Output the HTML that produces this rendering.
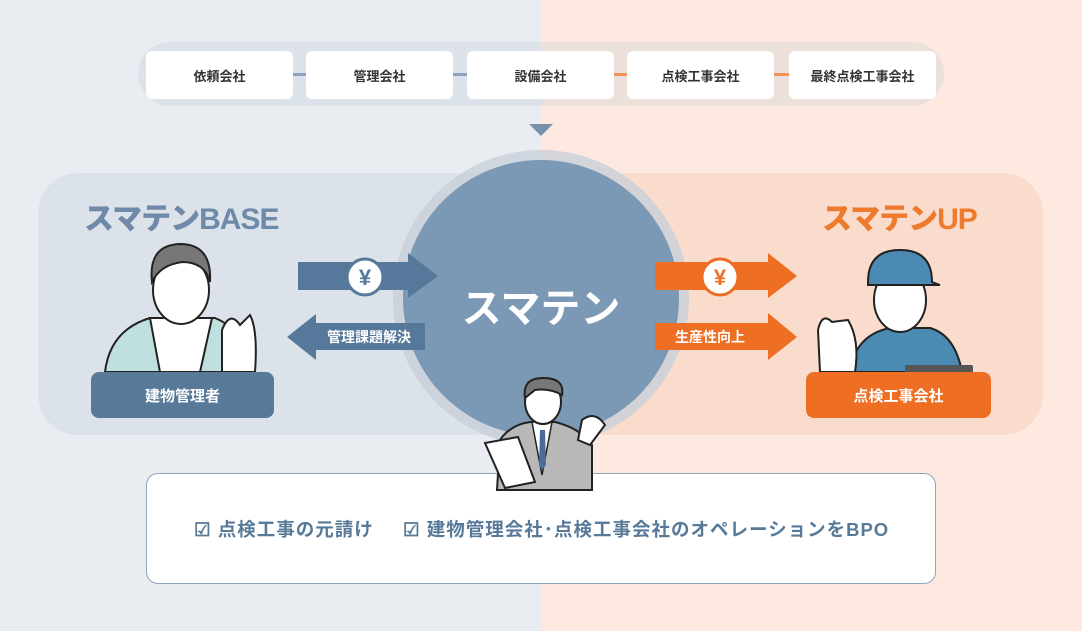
<!DOCTYPE html>
<html><head><meta charset="utf-8"><style>
*{margin:0;padding:0;box-sizing:border-box}
body{width:1082px;height:631px;overflow:hidden;position:relative;font-family:"Liberation Sans","Noto Sans CJK JP",sans-serif;background:linear-gradient(90deg,#e9edf2 0,#e9edf2 541px,#fde9df 541px,#fde9df 100%)}
.a{position:absolute}
.box{position:absolute;top:51px;height:48px;width:147px;background:#fff;border-radius:6px;display:flex;align-items:center;justify-content:center;font-size:13px;font-weight:bold;color:#333}
.lbl{position:absolute;display:flex;align-items:center;justify-content:center;color:#fff;font-weight:bold;font-size:15px;border-radius:8px}
.bt{position:absolute;top:516px;font-size:18.5px;font-weight:bold;color:#587a99;white-space:nowrap;letter-spacing:1px}
</style></head><body>
<div class="a" style="left:138px;top:42px;width:806px;height:64px;border-radius:32px;background:linear-gradient(90deg,#dce2ea 0,#dce2ea 403px,#ece0db 403px)"></div>
<div class="a" style="left:290px;top:73px;width:20px;height:3px;background:#8fa3bf"></div>
<div class="a" style="left:450px;top:73px;width:20px;height:3px;background:#8fa3bf"></div>
<div class="a" style="left:611px;top:73px;width:20px;height:3px;background:#f2925a"></div>
<div class="a" style="left:771px;top:73px;width:20px;height:3px;background:#f2925a"></div>
<div class="box" style="left:146px">依頼会社</div>
<div class="box" style="left:306px">管理会社</div>
<div class="box" style="left:467px">設備会社</div>
<div class="box" style="left:627px">点検工事会社</div>
<div class="box" style="left:789px">最終点検工事会社</div>
<div class="a" style="left:529px;top:124px;width:0;height:0;border-left:12px solid transparent;border-right:12px solid transparent;border-top:12px solid #7890ab"></div>

<div class="a" style="left:38px;top:173px;width:540px;height:262px;border-radius:40px 0 0 40px;background:#dbe2ea"></div>
<div class="a" style="left:541px;top:173px;width:502px;height:262px;border-radius:0 40px 40px 0;background:#f9dccc"></div>
<div class="a" style="left:393px;top:150px;width:296px;height:296px;border-radius:50%;background:rgba(200,208,218,.8)"></div>
<div class="a" style="left:403px;top:160px;width:276px;height:276px;border-radius:50%;background:#7b98b4"></div>
<div class="a" style="left:403px;top:276px;width:276px;text-align:center;color:#fff;font-size:40px;font-weight:bold;letter-spacing:0px">スマテン</div>

<div class="a" style="left:84px;top:194px;color:#6f8aa8;font-size:30px;font-weight:900;letter-spacing:-1px">スマテンBASE</div>
<div class="a" style="left:822px;top:194px;color:#ee7a2e;font-size:30px;font-weight:900;letter-spacing:-1px">スマテンUP</div>

<div class="a" style="left:146px;top:473px;width:790px;height:111px;background:#fff;border:1.5px solid #8fa4bd;border-radius:12px"></div>
<div class="bt" style="left:194px">☑ 点検工事の元請け</div>
<div class="bt" style="left:403px">☑ 建物管理会社･点検工事会社のオペレーションをBPO</div>

<svg class="a" style="left:0;top:0" width="1082" height="631">
<polygon points="298,262 408,262 408,253 438,276 408,298 408,290 298,290" fill="#56789a"/>
<circle cx="365" cy="277" r="18" fill="#fff" stroke="#56789a" stroke-width="3"/>
<text x="365" y="285" text-anchor="middle" font-size="22" font-weight="bold" fill="#56789a" font-family="Liberation Sans">¥</text>
<polygon points="425,323 316,323 316,314 287,337 316,360 316,350 425,350" fill="#56789a"/>
<polygon points="655,262 768,262 768,253 797,276 768,298 768,290 655,290" fill="#ee6f23"/>
<circle cx="720" cy="277" r="18" fill="#fff" stroke="#ee6f23" stroke-width="3"/>
<text x="720" y="285" text-anchor="middle" font-size="22" font-weight="bold" fill="#ee6f23" font-family="Liberation Sans">¥</text>
<polygon points="655,323 768,323 768,313 797,337 768,360 768,350 655,350" fill="#ee6f23"/>
<path d="M105,372 Q110,330 150,318 L215,318 Q245,330 250,372Z" fill="#bfe0df" stroke="#222" stroke-width="2"/>
<path d="M150,318 L160,372 L200,372 L212,318Z" fill="#fff" stroke="#222" stroke-width="2"/>
<ellipse cx="181" cy="290" rx="28" ry="34" fill="#fff" stroke="#222" stroke-width="2"/>
<path d="M152,282 Q148,245 180,244 Q212,244 210,282 Q205,262 182,262 Q160,265 152,282Z" fill="#777" stroke="#222" stroke-width="2"/>
<path d="M222,372 L222,330 Q230,310 240,325 L250,315 Q258,330 255,372Z" fill="#fff" stroke="#222" stroke-width="2"/>
<path d="M850,372 Q855,335 890,328 L930,328 Q955,335 962,372Z" fill="#4a8ab3" stroke="#222" stroke-width="2"/>
<ellipse cx="900" cy="300" rx="26" ry="32" fill="#fff" stroke="#222" stroke-width="2"/>
<path d="M868,282 Q868,250 900,250 Q932,250 932,282 L940,285 L868,285Z" fill="#4a8ab3" stroke="#222" stroke-width="2"/>
<path d="M820,372 L818,330 Q822,312 832,322 L848,320 Q860,340 855,372Z" fill="#fff" stroke="#222" stroke-width="2"/>
<rect x="905" y="365" width="68" height="10" rx="2" fill="#555"/>
<path d="M497,490 L500,440 Q510,425 530,422 L555,422 Q580,428 592,445 L592,490Z" fill="#b8b8b8" stroke="#222" stroke-width="2"/>
<path d="M532,422 L542,475 L552,422Z" fill="#fff" stroke="#222" stroke-width="1.5"/>
<path d="M540,430 L545,430 L546,465 L542,470 L539,465Z" fill="#4b6d9a"/>
<ellipse cx="543" cy="402" rx="18" ry="22" fill="#fff" stroke="#222" stroke-width="2"/>
<path d="M525,398 Q522,378 543,378 Q565,378 562,395 Q550,388 535,390Z" fill="#777" stroke="#222" stroke-width="2"/>
<polygon points="485,443 518,437 535,482 505,488" fill="#fff" stroke="#222" stroke-width="2"/>
<path d="M578,440 L582,420 Q595,410 605,425 L590,445Z" fill="#fff" stroke="#222" stroke-width="2"/>
</svg>

<div class="a" style="left:313px;top:323px;width:112px;height:27px;color:#fff;font-size:14px;font-weight:bold;display:flex;align-items:center;justify-content:center">管理課題解決</div>
<div class="a" style="left:655px;top:323px;width:110px;height:27px;color:#fff;font-size:14px;font-weight:bold;display:flex;align-items:center;justify-content:center">生産性向上</div>

<div class="lbl" style="left:91px;top:372px;width:183px;height:46px;background:#587a99">建物管理者</div>
<div class="lbl" style="left:806px;top:372px;width:185px;height:46px;background:#ee6f23">点検工事会社</div>
</body></html>
